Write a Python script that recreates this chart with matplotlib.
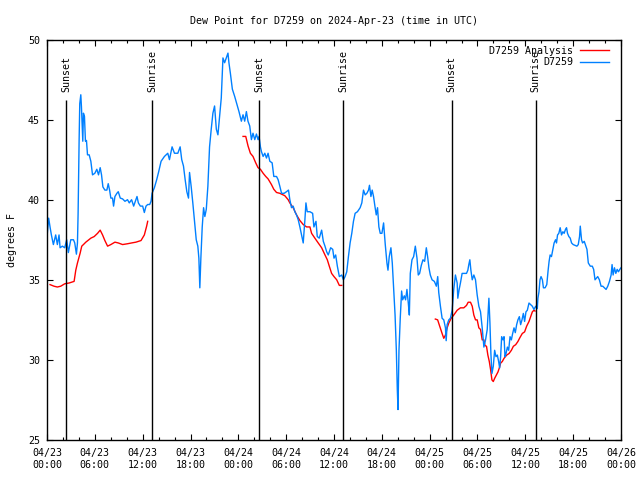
import numpy as np
import matplotlib
matplotlib.use("Agg")
import matplotlib.pyplot as plt
from matplotlib.ticker import MultipleLocator, FixedLocator

# Data (hours since 04/23 00:00 UTC, dew point in degrees F)
obs_hours = [
    0.04, 0.21, 0.38, 0.55, 0.80, 1.09, 1.30, 1.51, 1.64, 1.93, 2.22, 2.47, 2.68, 2.98, 3.32, 3.48,
    3.69, 3.82, 3.90, 4.03, 4.11, 4.24, 4.32, 4.49, 4.57, 4.70, 4.82, 4.95, 5.08, 5.29, 5.50, 5.71,
    6.00, 6.25, 6.46, 6.67, 6.84, 7.01, 7.26, 7.51, 7.68, 7.85, 8.01, 8.22, 8.35, 8.52, 8.77, 8.94,
    9.19, 9.48, 9.78, 10.10, 10.32, 10.61, 10.87, 11.04, 11.29, 11.46, 11.71, 12.00, 12.21, 12.42,
    12.63, 12.88, 13.05,
    13.18, 13.47, 13.76, 14.01, 14.31, 14.73, 15.15, 15.36, 15.69, 15.99, 16.41, 16.70, 16.90, 17.12,
    17.33, 17.54, 17.75, 17.88, 18.09, 18.29, 18.50, 18.72, 18.92, 19.05, 19.17, 19.30, 19.47, 19.64,
    19.80, 19.98, 20.18, 20.39, 20.60, 20.81, 21.02, 21.24, 21.44, 21.65, 21.86, 22.07, 22.28, 22.49,
    22.70, 22.82, 23.00, 23.25, 23.54, 23.83, 24.08, 24.38, 24.59, 24.80, 25.01, 25.21, 25.43, 25.64,
    25.84, 26.06, 26.27, 26.47,
    26.60, 26.77, 26.90, 27.11, 27.32, 27.53, 27.73, 27.95, 28.24, 28.45, 28.79, 28.99, 29.20, 29.42,
    29.75, 30.04, 30.29, 30.46, 30.67, 30.88, 31.09, 31.30, 31.51, 31.72, 31.93, 32.14, 32.35, 32.48,
    32.64, 32.98, 33.32, 33.48, 33.74, 33.90, 34.15, 34.45, 34.66, 34.87, 35.08, 35.28, 35.58, 35.84,
    36.00, 36.21, 36.42, 36.67, 36.97,
    37.18, 37.39, 37.60, 37.81, 38.02, 38.23, 38.44, 38.65, 38.94, 39.28, 39.49, 39.70, 39.91, 40.12,
    40.33, 40.45, 40.63, 40.79, 40.96, 41.13, 41.30, 41.46, 41.63, 41.80, 42.01, 42.22, 42.43, 42.64,
    42.77, 42.93, 43.14, 43.31, 43.48, 43.66, 43.82, 43.94, 44.03, 44.15, 44.31, 44.48, 44.61, 44.82,
    44.98, 45.15, 45.32, 45.45, 45.57, 45.78, 45.99, 46.20, 46.41, 46.57, 46.74, 46.95, 47.16, 47.37,
    47.58, 47.74, 47.91,
    48.08, 48.30, 48.59, 48.84, 49.01, 49.14, 49.35, 49.56, 49.77, 49.98, 50.07, 50.19, 50.40, 50.60,
    50.82, 51.02, 51.23, 51.45, 51.53, 51.70, 51.86, 52.07, 52.28, 52.62, 52.79, 52.91, 53.04, 53.17,
    53.34, 53.54, 53.75, 53.96, 54.17, 54.38, 54.59, 54.80, 55.01, 55.22, 55.43, 55.56, 55.68, 55.81,
    55.98, 56.15, 56.32, 56.49, 56.65, 56.78, 56.90, 57.03, 57.20, 57.33, 57.45, 57.58, 57.75, 57.91,
    58.08, 58.25, 58.41, 58.58, 58.74, 58.91, 59.07, 59.25, 59.41, 59.58, 59.75, 59.91, 60.08, 60.25,
    60.46,
    60.67, 60.88, 61.08, 61.30, 61.50, 61.58, 61.71, 61.84, 61.97, 62.14, 62.27, 62.48, 62.69, 62.86,
    62.98, 63.11, 63.28, 63.45, 63.61, 63.79, 63.91, 64.04, 64.20, 64.37, 64.54, 64.71, 64.87, 65.04,
    65.17, 65.29, 65.46, 65.63, 65.80, 66.00, 66.25, 66.47, 66.64, 66.80, 66.89, 66.97, 67.05, 67.18,
    67.39, 67.60, 67.73, 67.90, 68.15, 68.40, 68.57, 68.74, 68.91, 69.08, 69.29, 69.50, 69.71, 69.92,
    70.13, 70.34, 70.55, 70.76, 70.88, 71.01, 71.18, 71.35, 71.52, 71.68, 71.85, 72.00,
]
obs_dewpt = [
    37.9, 38.85, 38.3, 37.8, 37.2, 37.8, 37.2, 37.8, 37.0, 37.1, 37.0, 37.5, 36.7, 37.5, 37.5, 37.3,
    36.6, 37.3, 39.1, 43.75, 46.0, 46.55, 45.8, 43.65, 45.4, 45.2, 43.65, 43.7, 42.8, 42.8, 42.4, 41.55,
    41.65, 41.9, 41.55, 42.0, 41.55, 40.8, 40.6, 40.6, 41.0, 40.6, 40.1, 40.1, 39.6, 40.2, 40.4, 40.5,
    40.1, 40.05, 39.9, 40.0, 39.8, 40.0, 39.6, 39.85, 40.2, 39.8, 39.6, 39.6, 39.2, 39.6,
    39.7, 39.7, 39.9,
    40.4, 40.75, 41.25, 41.75, 42.4, 42.7, 42.9, 42.5, 43.3, 42.9, 42.9, 43.3, 42.5, 42.1,
    41.25, 40.5, 40.1, 41.7, 40.8, 39.8, 38.65, 37.5, 37.1, 36.35, 34.5, 36.35, 38.3, 39.5,
    38.95, 39.4, 40.85, 43.3, 44.4, 45.4, 45.85, 44.4, 44.05, 45.2, 46.35, 48.85, 48.55, 48.85,
    49.15, 48.55, 47.9, 46.9, 46.45, 45.95, 45.5, 44.9, 45.3, 44.9, 45.5, 44.9, 44.6, 43.75,
    44.15, 43.75, 44.1, 43.75,
    43.95, 43.3, 43.0, 42.7, 42.9, 42.6, 42.9, 42.4, 42.3, 41.45, 41.45, 41.25, 40.85, 40.4,
    40.4, 40.5, 40.6, 40.0, 39.5, 39.6, 39.25, 39.05, 38.75, 38.3, 37.8, 37.3, 38.75, 39.8,
    39.25, 39.25, 39.15, 38.3, 38.65, 37.7, 37.6, 38.1, 37.4, 37.1, 36.75, 36.55, 37.0, 36.9,
    36.35, 36.55, 35.85, 35.2, 35.3,
    35.0, 35.2, 35.5, 36.45, 37.3, 37.9, 38.65, 39.15, 39.25, 39.5, 39.8, 40.6, 40.3, 40.4,
    40.6, 40.9, 40.2, 40.6, 40.2, 39.6, 39.05, 39.5, 38.3, 37.9, 37.9, 38.55, 37.2, 36.05,
    35.6, 36.45, 37.0, 36.05, 34.5, 32.8, 30.6, 28.15, 26.9, 30.6, 32.6, 34.3, 33.75, 34.0,
    33.75, 34.4, 33.55, 32.8, 35.4, 36.25, 36.45, 37.1, 36.35, 35.3, 35.4, 35.9, 36.25, 36.15,
    37.0, 36.45, 35.75,
    35.3, 35.0, 34.9, 34.6, 35.2, 34.2, 33.35, 32.6, 32.5, 32.0, 31.2, 32.2, 32.5, 32.6,
    33.1, 34.4, 35.3, 34.8, 33.85, 34.4, 34.8, 35.4, 35.4, 35.4, 35.6, 35.95, 36.25, 35.6,
    35.0, 35.3, 35.0, 34.05, 33.35, 33.0, 32.0, 30.8, 31.25, 31.9, 33.85, 32.3, 30.4, 29.15,
    29.6, 30.6, 30.2, 30.3, 29.9, 29.5, 30.2, 31.45, 31.25, 31.45, 30.2, 30.4, 30.8, 30.6,
    31.45, 31.25, 31.65, 32.0, 31.7, 32.2, 32.5, 32.7, 32.2, 32.5, 32.9, 32.4, 33.0, 33.1,
    33.55,
    33.45, 33.35, 33.15, 33.35, 33.2, 33.85, 34.25, 35.0, 35.2, 35.0, 34.5, 34.5, 34.7, 35.6,
    36.15, 36.55, 36.45, 36.9, 37.3, 37.5, 37.3, 37.8, 37.9, 38.25, 37.8, 38.0, 37.9, 38.15,
    38.25, 37.9, 37.7, 37.6, 37.3, 37.2, 37.15, 37.1, 37.2, 37.7, 38.35, 37.9, 37.5, 37.3,
    37.4, 37.1, 36.9, 36.05, 35.85, 35.85, 35.65, 35.0, 35.1, 35.2, 35.0, 34.6, 34.6, 34.5,
    34.4, 34.6, 34.9, 35.3, 35.95, 35.3, 35.75, 35.4, 35.65, 35.5, 35.65, 35.75,
]

# analysis series, three separate nights
ana_hours_1 = [0.38, 0.88, 1.30, 1.72, 2.22, 2.77, 3.40, 3.61, 3.82, 4.15, 4.36, 4.57, 4.87, 5.50,
               5.92, 6.34, 6.67, 6.97, 7.26, 7.60, 8.01, 8.52, 8.94, 9.48, 10.10, 10.61, 11.16,
               11.79, 12.21, 12.50, 12.63]
ana_dewpt_1 = [34.7, 34.6, 34.55, 34.6, 34.75, 34.8, 34.9, 35.6, 36.05, 36.65, 37.1, 37.2, 37.35,
               37.6, 37.7, 37.9, 38.1, 37.8, 37.45, 37.1, 37.2, 37.35, 37.3, 37.2, 37.25, 37.3,
               37.35, 37.45, 37.8, 38.35, 38.65]
ana_hours_2 = [24.59, 24.93, 25.22, 25.51, 25.84, 26.18, 26.47, 26.77, 27.11, 27.44, 27.73, 28.15,
               28.45, 28.79, 29.20, 29.83, 30.25, 30.46, 30.88, 31.30, 31.72, 32.14, 32.56, 32.98,
               33.19, 33.60, 34.02, 34.45, 34.87, 35.16, 35.41, 35.70, 36.00, 36.34, 36.67, 36.97]
ana_dewpt_2 = [43.95, 43.95, 43.35, 42.9, 42.7, 42.3, 42.0, 41.9, 41.65, 41.45, 41.3, 40.95, 40.65,
               40.45, 40.4, 40.25, 40.0, 39.8, 39.5, 39.05, 38.7, 38.45, 38.3, 38.3, 37.9, 37.6,
               37.3, 37.0, 36.55, 36.25, 35.85, 35.4, 35.2, 35.0, 34.65, 34.65]
ana_hours_3 = [48.71, 49.00, 49.26, 49.56, 49.77, 49.98, 50.19, 50.40, 50.70, 51.02, 51.45, 51.86,
               52.28, 52.62, 52.83, 53.12, 53.34, 53.54, 53.75, 53.96, 54.17, 54.38, 54.59, 54.80,
               54.93, 55.13, 55.30, 55.48, 55.64, 55.81, 55.98, 56.15, 56.36, 56.57, 56.74, 56.90,
               57.11, 57.33, 57.66, 57.96, 58.25, 58.50, 58.79, 59.07, 59.33, 59.62, 59.91, 60.16,
               60.46, 60.67, 60.88, 61.08, 61.21]
ana_dewpt_3 = [32.55, 32.5, 32.1, 31.65, 31.35, 31.55, 32.0, 32.3, 32.6, 32.8, 33.1, 33.25, 33.25,
               33.4, 33.6, 33.6, 33.35, 32.8, 32.5, 32.5, 32.0, 31.9, 31.25, 31.25, 30.9, 30.85,
               30.3, 29.9, 29.4, 28.75, 28.65, 28.85, 29.05, 29.25, 29.5, 29.8, 29.9, 30.1, 30.3,
               30.4, 30.6, 30.85, 30.95, 31.15, 31.4, 31.65, 31.75, 32.1, 32.4, 32.7, 33.0, 33.1,
               33.05]

sun_labels = ["Sunset", "Sunrise", "Sunset", "Sunrise", "Sunset", "Sunrise"]
sun_hours = [2.43, 13.18, 26.6, 37.18, 50.77, 61.3]

tick_hours = [0, 6, 12, 18, 24, 30, 36, 42, 48, 54, 60, 66, 72]
tick_labels = ["04/23\n00:00", "04/23\n06:00", "04/23\n12:00", "04/23\n18:00",
               "04/24\n00:00", "04/24\n06:00", "04/24\n12:00", "04/24\n18:00",
               "04/25\n00:00", "04/25\n06:00", "04/25\n12:00", "04/25\n18:00",
               "04/26\n00:00"]

plt.rcParams['font.family'] = 'DejaVu Sans Mono'
plt.rcParams['font.size'] = 7.2

fig = plt.figure(figsize=(6.4, 4.8), dpi=100)
ax = fig.add_axes([47 / 640, 40 / 480, 574 / 640, 400.5 / 480])

# join analysis segments with gaps
nan = [np.nan]
ana_hours = ana_hours_1 + nan + ana_hours_2 + nan + ana_hours_3
ana_dewpt = ana_dewpt_1 + nan + ana_dewpt_2 + nan + ana_dewpt_3

ax.plot(ana_hours, ana_dewpt, color='#ff0000', lw=1, label='D7259 Analysis')
ax.plot(obs_hours, obs_dewpt, color='#0080ff', lw=1, label='D7259')

# sunrise / sunset markers
for name, h in zip(sun_labels, sun_hours):
    ax.vlines(h, 25, 46.25, color='black', lw=1)
    ax.text(h, 46.7, name, rotation=90, ha='center', va='bottom')

ax.set_xlim(0, 72)
ax.set_ylim(25, 50)
ax.xaxis.set_major_locator(FixedLocator(tick_hours))
ax.set_xticklabels(tick_labels)
ax.xaxis.set_minor_locator(MultipleLocator(2))
ax.yaxis.set_major_locator(MultipleLocator(5))

ax.tick_params(which='both', direction='in', top=True, right=True, color='black')
ax.tick_params(which='major', length=4.5, width=0.8)
ax.tick_params(which='minor', length=2.2, width=0.8)
ax.tick_params(axis='x', which='major', pad=6)
ax.tick_params(axis='y', which='major', pad=5)
for s in ax.spines.values():
    s.set_linewidth(1)

ax.set_ylabel('degrees F', labelpad=8)
# title centred over the plot area, like gnuplot does
ax.set_title('Dew Point for D7259 on 2024-Apr-23 (time in UTC)', fontsize=7.2, pad=11)

ax.legend(loc='upper right', bbox_to_anchor=(0.9895, 1.0), frameon=False, markerfirst=False,
          handlelength=2.9, handletextpad=0.7, borderaxespad=0.3, borderpad=0.3,
          labelspacing=0.15)

fig.savefig('out.png', dpi=100)
